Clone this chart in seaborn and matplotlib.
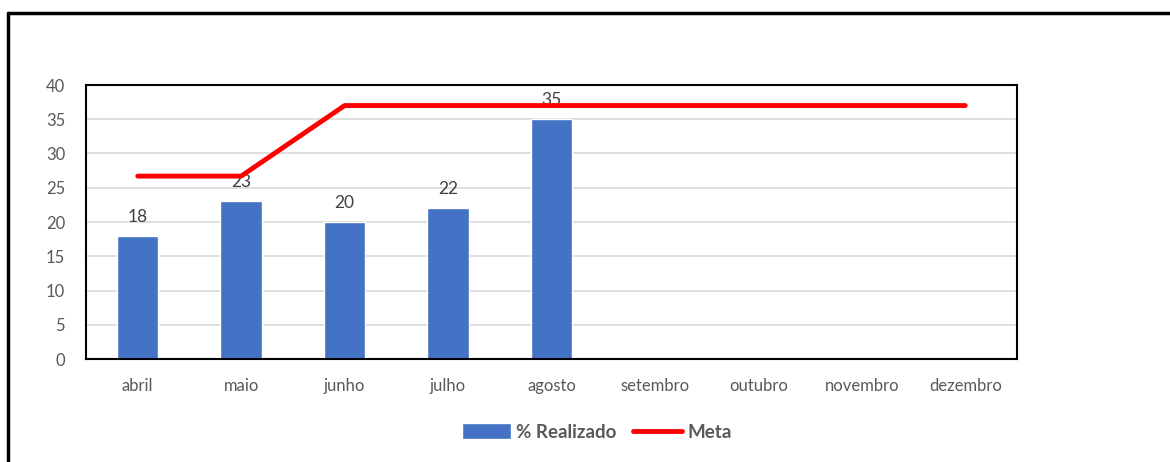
import seaborn as sns
import pandas as pd
import matplotlib.pyplot as plt
import numpy as np
from matplotlib.lines import Line2D
from matplotlib.patches import Patch

months = ["abril", "maio", "junho", "julho", "agosto",
          "setembro", "outubro", "novembro", "dezembro"]
realizado = [18, 23, 20, 22, 35, np.nan, np.nan, np.nan, np.nan]
meta = [26.7, 26.7, 37, 37, 37, 37, 37, 37, 37]
y_ticks = [0, 5, 10, 15, 20, 25, 30, 35, 40]

df = pd.DataFrame({"mes": months, "realizado": realizado, "meta": meta})

sns.set_style("white")
plt.rcParams["font.family"] = ["Lato", "DejaVu Sans"]
txt = "#595959"

fig = plt.figure(figsize=(11.7, 4.62), dpi=100)
ax = fig.add_axes([86 / 1170, 1 - 359 / 462, (1017 - 86) / 1170, (359 - 85) / 462])

sns.barplot(data=df.dropna(subset=["realizado"]), x="mes", y="realizado", order=months,
            color="#4472C4", width=0.4, saturation=1, ax=ax, zorder=2)
ax.bar_label(ax.containers[0], fmt="%g", padding=8, fontsize=12.5, color="#404040")

sns.lineplot(x=np.arange(len(months)), y=df["meta"], color="#FF0000", linewidth=3.5,
             solid_capstyle="round", ax=ax, zorder=3)

ax.set_xlim(-0.5, len(months) - 0.5)
ax.set_ylim(0, 40)
ax.set_yticks(y_ticks)
ax.set_xticks(range(len(months)))
ax.set_xticklabels(months)
ax.yaxis.grid(True, color="#D9D9D9", linewidth=1.2, zorder=0)
ax.set_axisbelow(True)
ax.tick_params(axis="both", length=0, labelsize=12, colors=txt)
ax.tick_params(axis="x", pad=14)
ax.tick_params(axis="y", pad=15)
ax.set_xlabel("")
ax.set_ylabel("")
for s in ax.spines.values():
    s.set_visible(True)
    s.set_color("black")
    s.set_linewidth(1.5)

handles = [Patch(facecolor="#4472C4", label="% Realizado"),
           Line2D([0], [0], color="#FF0000", lw=3.5, label="Meta")]
leg = fig.legend(handles=handles, loc="center", bbox_to_anchor=(597 / 1170, 1 - 432 / 462),
                 ncol=2, frameon=False, handlelength=2.6, handleheight=0.9,
                 columnspacing=0.9, handletextpad=0.3,
                 prop={"weight": "bold", "size": 13.5})
for t in leg.get_texts():
    t.set_color(txt)

# outer frame (top and left edges)
fig.add_artist(Line2D([8 / 1170, 1], [1 - 13 / 462, 1 - 13 / 462], color="black", lw=2.5,
                      transform=fig.transFigure))
fig.add_artist(Line2D([8 / 1170, 8 / 1170], [0, 1 - 13 / 462], color="black", lw=2.5,
                      transform=fig.transFigure))

fig.savefig("out.png", dpi=100)
